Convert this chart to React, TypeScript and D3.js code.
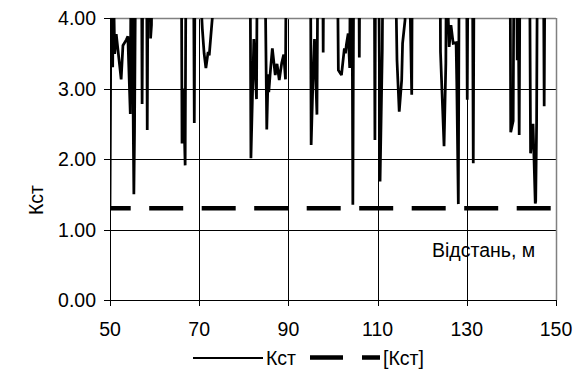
import React from "react";
import * as d3 from "d3";

const distance = [
  50, 50.35, 50.6, 50.75, 51.05, 51.4, 52.5, 52.9, 53.65, 54.0, 54.55, 54.8, 55.25, 55.35, 55.5, 55.85,
  57.0, 57.2, 57.45, 58.15, 58.35, 58.6, 58.9, 59.1, 59.3, 59.5,
  65.95, 66.15, 66.45, 66.85, 67.1, 68.65, 68.9, 69.15,
  70.1, 70.35, 70.7, 71.1, 71.5, 72.0, 72.25, 73.2, 73.5,
  81.35, 81.6, 82.25, 82.85, 83.1,
  84.55, 85.15, 85.45, 85.6, 85.9, 86.4, 87.05, 87.45, 87.95, 88.5, 88.95, 89.35, 89.6,
  94.9, 95.1, 95.5, 95.85, 96.4, 96.7, 97.6, 97.8, 98.0,
  100.85, 101.2, 101.9, 102.55, 102.8, 103.0, 103.4, 103.75, 103.95, 104.2, 104.45, 104.7,
  105.7, 105.9, 106.1, 109.2, 109.4, 109.6, 110.15, 110.55, 111.05, 111.3,
  113.95, 114.35, 114.85, 115.4, 115.6, 116.15, 116.4, 117.05, 117.65, 117.85,
  123.95, 124.1, 124.9, 125.3, 125.5, 125.85, 126.05, 126.45, 126.95, 127.6, 127.75, 128.1, 128.35,
  129.85, 130.1, 130.35, 131.2, 131.45, 131.7,
  139.65, 139.85, 140.4, 140.65, 141.05, 141.3, 141.45, 141.75, 142.0,
  144.0, 144.3, 144.85, 145.35, 145.45, 145.65, 145.9, 147.1, 147.35, 147.6, 150,
];

const kst = [
  1.3, 6, 3.3, 4.6, 3.49, 3.77, 3.13, 3.61, 3.69, 3.74, 2.64, 6, 2.2, 1.5, 2.4, 6,
  6, 2.78, 6, 6, 2.41, 6, 6, 3.71, 3.9, 6,
  6, 2.22, 3.0, 1.91, 6, 6, 2.51, 6,
  6, 4.3, 3.85, 3.5, 3.29, 3.52, 3.47, 4.2, 6,
  6, 2.01, 3.7, 2.85, 6,
  6, 2.42, 3.2, 2.95, 3.2, 3.57, 3.19, 3.35, 3.12, 3.36, 3.48, 3.13, 6,
  6, 2.2, 3.1, 3.7, 2.63, 6, 6, 3.51, 6,
  6, 3.26, 3.19, 3.57, 3.5, 3.62, 3.78, 3.29, 6, 6, 1.35, 6,
  6, 3.44, 6, 6, 2.27, 6, 6, 1.68, 3.55, 6,
  5, 3.4, 2.67, 3.12, 3.64, 3.97, 6, 5, 2.91, 6,
  6, 3.52, 2.18, 3.36, 6, 3.97, 3.59, 3.9, 3.64, 3.65, 3.1, 1.36, 6,
  6, 2.84, 6, 6, 1.94, 6,
  6, 2.38, 2.54, 6, 6, 3.4, 5, 2.34, 6,
  6, 2.08, 2.5, 1.37, 1.4, 2.5, 6, 6, 2.75, 6, 6,
];

const limitValue = 1.3;
const xTicks = [50, 70, 90, 110, 130, 150];
const yTicks = [0, 1, 2, 3, 4];
const seriesName = "Кст";
const limitName = "[Кст]";
const yTitle = "Кст";
const xTitle = "Відстань, м";

const W = 575;
const H = 369;
const L = 110, R = 556, T = 18, B = 300;
const FONT = "'Liberation Sans', Arial, sans-serif";
const FS = 19.5;

export default function App() {
  const x = d3.scaleLinear().domain([50, 150]).range([L, R]);
  const y = d3.scaleLinear().domain([0, 4]).range([B, T]);
  const pts = distance.map((d, i) => [d, kst[i]] as [number, number]);
  const line = d3.line<[number, number]>().x((d) => x(d[0])).y((d) => y(d[1]));
  const path = line(pts) || "";

  return (
    <svg width={W} height={H} style={{ position: "absolute", left: 0, top: 0, background: "#fff" }}
      fontFamily={FONT}>
      <defs>
        <clipPath id="plotclip">
          <rect x={L} y={T} width={R - L} height={B - T} />
        </clipPath>
      </defs>
      <rect x={0} y={0} width={W} height={H} fill="#fff" />
      {/* grid */}
      {yTicks.filter((t) => t > 0 && t < 4).map((t) => (
        <line key={"gy" + t} x1={L} x2={R} y1={Math.round(y(t)) + 0.5} y2={Math.round(y(t)) + 0.5} stroke="#000" strokeWidth={1} />
      ))}
      {xTicks.filter((t) => t > 50 && t < 150).map((t) => (
        <line key={"gx" + t} y1={T} y2={B} x1={Math.round(x(t)) + 0.5} x2={Math.round(x(t)) + 0.5} stroke="#000" strokeWidth={1} />
      ))}
      {/* border top/right */}
      <line x1={L} x2={R} y1={T + 0.5} y2={T + 0.5} stroke="#808080" strokeWidth={1.5} />
      <line x1={R + 0.5} x2={R + 0.5} y1={T} y2={B} stroke="#808080" strokeWidth={1.5} />
      {/* series */}
      <g clipPath="url(#plotclip)">
        <path d={path} fill="none" stroke="#000" strokeWidth={2.75} strokeLinejoin="miter" strokeMiterlimit={2} />
      </g>
      <line x1={x(50)} x2={x(150)} y1={y(limitValue)} y2={y(limitValue)} stroke="#000" strokeWidth={4.5}
        strokeDasharray="34 18.5" strokeDashoffset={13.3} />
      {/* axes */}
      <line x1={L + 0.5} x2={L + 0.5} y1={T} y2={B} stroke="#000" strokeWidth={1} />
      <line x1={L - 6} x2={R} y1={B + 0.5} y2={B + 0.5} stroke="#000" strokeWidth={1} />
      {yTicks.map((t) => (
        <g key={"yt" + t}>
          <line x1={L - 6} x2={L} y1={Math.round(y(t)) + 0.5} y2={Math.round(y(t)) + 0.5} stroke="#000" />
          <text x={L - 14} y={y(t)} dy="0.36em" textAnchor="end" fontSize={FS}>{t.toFixed(2)}</text>
        </g>
      ))}
      {xTicks.map((t) => (
        <g key={"xt" + t}>
          <line x1={Math.round(x(t)) + 0.5} x2={Math.round(x(t)) + 0.5} y1={B} y2={B + 6} stroke="#000" />
          <text x={x(t)} y={336} textAnchor="middle" fontSize={FS}>{t}</text>
        </g>
      ))}
      {/* titles */}
      <text transform={`translate(43, 200) rotate(-90)`} textAnchor="middle" fontSize={FS}>{yTitle}</text>
      <text x={432} y={257} fontSize={FS}>{xTitle}</text>
      {/* legend */}
      <line x1={193} x2={263} y1={358} y2={358} stroke="#000" strokeWidth={2} />
      <text x={266} y={365} fontSize={FS}>{seriesName}</text>
      <line x1={310} x2={380} y1={357.5} y2={357.5} stroke="#000" strokeWidth={4.5} strokeDasharray="33 19" />
      <text x={383} y={365} fontSize={FS}>{limitName}</text>
    </svg>
  );
}
